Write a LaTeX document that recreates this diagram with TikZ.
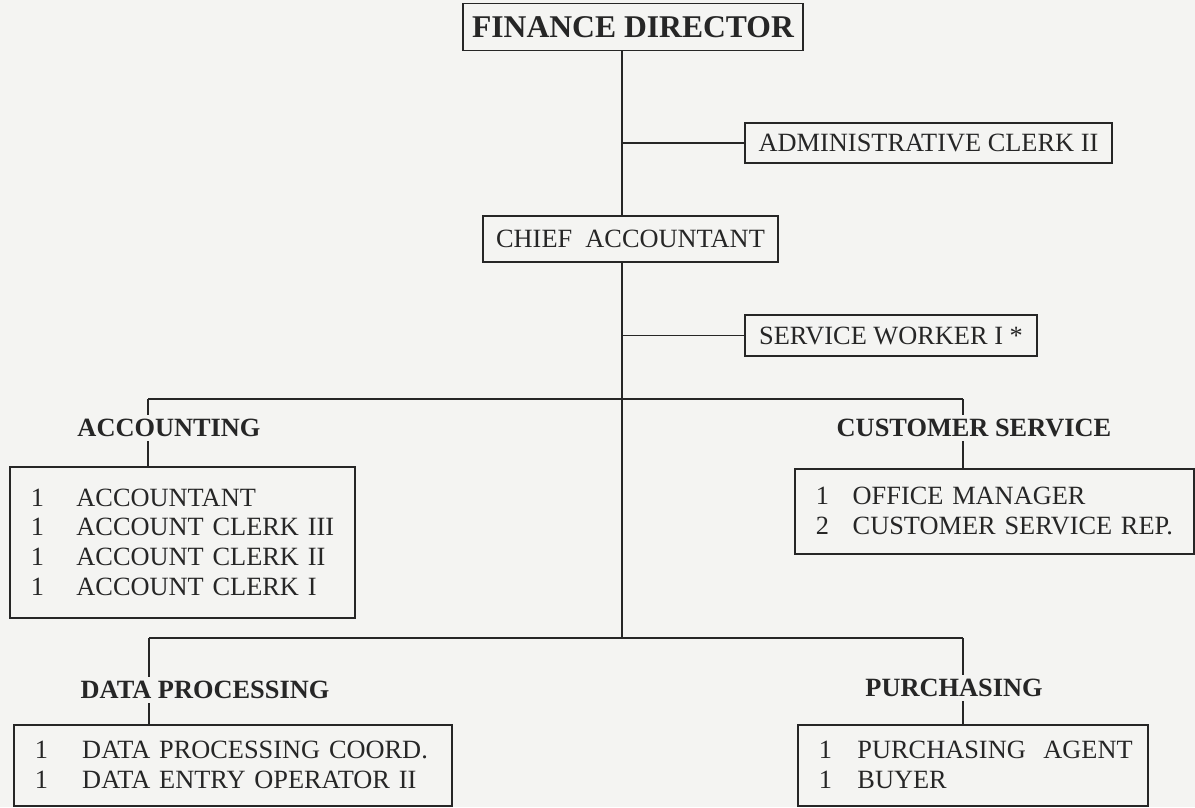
\documentclass[tikz,border=0pt]{standalone}
\usepackage{fontspec}
\setmainfont{Liberation Serif}

\definecolor{paper}{RGB}{244,244,242}
\definecolor{ink}{RGB}{38,38,38}
% number + title on one line of a staff box
\newcommand{\jobline}[3][26pt]{\makebox[#1][l]{#2}\mbox{#3}}

\begin{document}
\begin{tikzpicture}[x=0.02cm,y=-0.02cm,line width=0.9pt,color=ink]
    \tikzstyle{every node}=[font=\fontsize{15}{17}\selectfont]
    \tikzstyle{post}=[draw,inner sep=0pt,align=center]
    \tikzstyle{unit}=[font=\fontsize{15}{17}\selectfont\bfseries,inner sep=2pt]
    \tikzstyle{roster}=[draw,anchor=north west,inner xsep=0.42cm,inner ysep=0pt,align=left]
    \fill[paper] (0,0) rectangle (1195,807);
    % top of the chart
    \node[post,font=\fontsize{18}{20}\selectfont\bfseries,
      minimum width=6.8cm,minimum height=0.94cm] (fd) at (633,27) {FINANCE DIRECTOR};
    \node[post,minimum width=7.34cm,minimum height=0.8cm] (admin) at (928.5,143) {ADMINISTRATIVE CLERK II};
    \node[post,minimum width=5.9cm,minimum height=0.92cm] (ca) at (630.5,239) {CHIEF\ \ ACCOUNTANT};
    \node[post,minimum width=5.84cm,minimum height=0.82cm] (sw) at (891,335.5) {SERVICE WORKER I *};
    % divisions
    \node[unit] (acct) at (169,428) {ACCOUNTING};
    \node[unit] (cust) at (974,428) {CUSTOMER SERVICE};
    \node[unit] (dproc) at (205,690) {DATA PROCESSING};
    \node[unit] (purch) at (954,688) {PURCHASING};
    \node[roster,text width=6.06cm,minimum height=3.02cm] (accbox) at (9,466)
      {\jobline{1}{ACCOUNTANT}\\ \jobline{1}{ACCOUNT CLERK III}\\
       \jobline{1}{ACCOUNT CLERK II}\\ \jobline{1}{ACCOUNT CLERK I}};
    \node[roster,text width=7.14cm,minimum height=1.7cm] (csbox) at (794,468)
      {\jobline[21pt]{1}{OFFICE MANAGER}\\ \jobline[21pt]{2}{CUSTOMER SERVICE REP.}};
    \node[roster,text width=7.92cm,minimum height=1.62cm] (dpbox) at (13,724)
      {\jobline[27pt]{1}{DATA PROCESSING COORD.}\\ \jobline[27pt]{1}{DATA ENTRY OPERATOR II}};
    \node[roster,text width=6.16cm,minimum height=1.62cm] (pubox) at (797,724)
      {\jobline[22pt]{1}{PURCHASING\ \ AGENT}\\ \jobline[22pt]{1}{BUYER}};
    % lines
    \coordinate (spine) at (622,0);
    \coordinate (tl) at (148,399);
    \coordinate (tr) at (963,399);
    \coordinate (bl) at (149,638);
    \coordinate (br) at (963,638);
    \draw (fd.south -| spine) -- (ca.north -| spine);
    \draw (spine |- admin.west) -- (admin.west);
    \draw (ca.south -| spine) -- (spine |- bl);
    \draw (spine |- sw.west) -- (sw.west);
    \draw (tl) -- (tr);
    \draw (bl) -- (br);
    \foreach \barpt/\hdr/\grp in {tl/acct/accbox,tr/cust/csbox,bl/dproc/dpbox,br/purch/pubox}
      \draw (\barpt) -- (\barpt |- \hdr.north) (\barpt |- \hdr.south) -- (\barpt |- \grp.north);
\end{tikzpicture}
\end{document}
